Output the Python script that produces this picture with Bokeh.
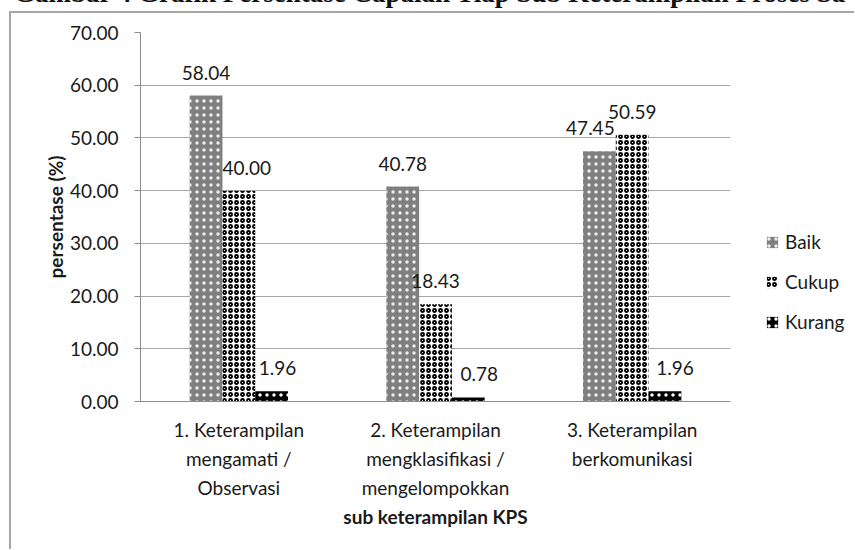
from bokeh.plotting import figure
from bokeh.models import (ColumnDataSource, FactorRange, FixedTicker, NumeralTickFormatter,
                          LabelSet, Legend, LegendItem, Range1d, Div)
from bokeh.layouts import column, row
from bokeh.transform import dodge
from bokeh.core.properties import value
from bokeh.embed import file_html
from bokeh.resources import INLINE

# ---- data ----
page_heading = "Gambar 4 Grafik Persentase Capaian Tiap Sub Keterampilan Proses Sa"
categories = ["1. Keterampilan\nmengamati /\nObservasi",
              "2. Keterampilan\nmengklasifikasi /\nmengelompokkan",
              "3. Keterampilan\nberkomunikasi"]
series = ["Baik", "Cukup", "Kurang"]
baik = [58.04, 40.78, 47.45]
cukup = [40.00, 18.43, 50.59]
kurang = [1.96, 0.78, 1.96]
y_ticks = [0, 10, 20, 30, 40, 50, 60, 70]
y_title = "persentase (%)"
x_title = "sub keterampilan KPS"

# ---- styling ----
FONT = "Lato"
TXT = "#1a1a1a"
GRID = "#a6a6a6"
BOX = "2px solid #a6a6a6"
label_dx = {"Baik": [0, 0, -9], "Cukup": [8, 0, 0], "Kurang": [6, 11, 10]}
offsets = {"Baik": -1 / 6, "Cukup": 0.0, "Kurang": 1 / 6}
bar_style = {
    "Baik": dict(fill_color="#7f7f7f", hatch_pattern=".", hatch_color="white",
                 hatch_scale=7, hatch_alpha=0.85),
    "Cukup": dict(fill_color="white", hatch_pattern="o", hatch_color="black",
                  hatch_scale=6, hatch_weight=1.8),
    "Kurang": dict(fill_color="black", hatch_pattern=".", hatch_color="white",
                   hatch_scale=7),
}
values = {"Baik": baik, "Cukup": cukup, "Kurang": kurang}

heading = Div(
    text=('<div style="position:relative; top:-19px; left:14px; white-space:nowrap; '
          'font-family:\'Liberation Serif\'; font-size:27px; font-weight:bold; '
          'line-height:25px; color:#111111;">' + page_heading + '</div>'),
    width=854, height=11, margin=0, styles={"overflow": "hidden"})

# ---- main chart ----
p = figure(width=729, height=536,
           x_range=FactorRange(factors=categories, range_padding=0),
           y_range=Range1d(0, 70),
           output_backend="svg", toolbar_location=None,
           min_border_left=129, min_border_right=10,
           min_border_top=19, min_border_bottom=148)
p.outline_line_color = None
p.background_fill_color = "white"
p.border_fill_color = "white"

for s in series:
    vals = values[s]
    src = ColumnDataSource(dict(cat=categories, val=vals,
                                txt=[f"{v:.2f}" for v in vals],
                                dx=label_dx[s]))
    p.vbar(x=dodge("cat", offsets[s], range=p.x_range), top="val",
           width=1 / 6, source=src, line_color=None, **bar_style[s])
    p.add_layout(LabelSet(x=dodge("cat", offsets[s], range=p.x_range), y="val",
                          text="txt", source=src, y_offset=16, x_offset="dx",
                          text_align="center", text_baseline="alphabetic",
                          text_font=value(FONT), text_font_size="19px",
                          text_color=TXT))

# y axis
p.yaxis.ticker = FixedTicker(ticks=y_ticks)
p.yaxis.formatter = NumeralTickFormatter(format="0.00")
p.yaxis.axis_line_color = "#8c8c8c"
p.yaxis.major_tick_line_color = "#8c8c8c"
p.yaxis.major_tick_out = 6
p.yaxis.major_tick_in = 0
p.yaxis.minor_tick_line_color = None
p.yaxis.major_label_standoff = 16
p.yaxis.major_label_text_font = FONT
p.yaxis.major_label_text_font_size = "19px"
p.yaxis.major_label_text_color = TXT
p.yaxis.axis_label = y_title
p.yaxis.axis_label_text_font = FONT
p.yaxis.axis_label_text_font_size = "19px"
p.yaxis.axis_label_text_font_style = "bold"
p.yaxis.axis_label_text_color = TXT
p.yaxis.axis_label_standoff = 0

# x axis
p.xaxis.axis_line_color = "#8c8c8c"
p.xaxis.major_tick_line_color = None
p.xaxis.minor_tick_line_color = None
p.xaxis.major_label_standoff = 10
p.xaxis.major_label_text_font = FONT
p.xaxis.major_label_text_font_size = "19px"
p.xaxis.major_label_text_color = TXT
p.xaxis.major_label_text_line_height = 1.27
p.xaxis.axis_label = x_title
p.xaxis.axis_label_text_font = FONT
p.xaxis.axis_label_text_font_size = "19px"
p.xaxis.axis_label_text_font_style = "bold"
p.xaxis.axis_label_text_color = TXT
p.xaxis.axis_label_standoff = 3

p.xgrid.visible = False
p.ygrid.grid_line_color = GRID
p.ygrid.grid_line_width = 1

# ---- legend panel (own small figure so nothing is clipped) ----
lf = figure(width=114, height=536, x_range=Range1d(0, 1), y_range=Range1d(0, 1),
            x_axis_location=None, y_axis_location=None,
            output_backend="svg", toolbar_location=None, min_border=0)
lf.grid.visible = False
lf.outline_line_color = None
lf.background_fill_color = None
lf.border_fill_color = None
items = []
for s in series:
    r = lf.vbar(x=[0.5], top=[0], bottom=[0], width=0.0, line_color=None,
                **bar_style[s])
    items.append(LegendItem(label=s, renderers=[r]))
legend = Legend(items=items, location=(25, 68), orientation="vertical",
                glyph_width=14, glyph_height=14, label_standoff=6, spacing=17,
                padding=0, margin=0, border_line_color=None,
                background_fill_alpha=0,
                label_text_font=FONT, label_text_font_size="19px",
                label_text_color=TXT)
lf.add_layout(legend)

chart = row(p, lf, spacing=0,
            styles={"margin-left": "9px", "border-left": BOX, "border-top": BOX})
layout = column(heading, chart, spacing=0)

open("out.html", "w").write(file_html(layout, INLINE))
